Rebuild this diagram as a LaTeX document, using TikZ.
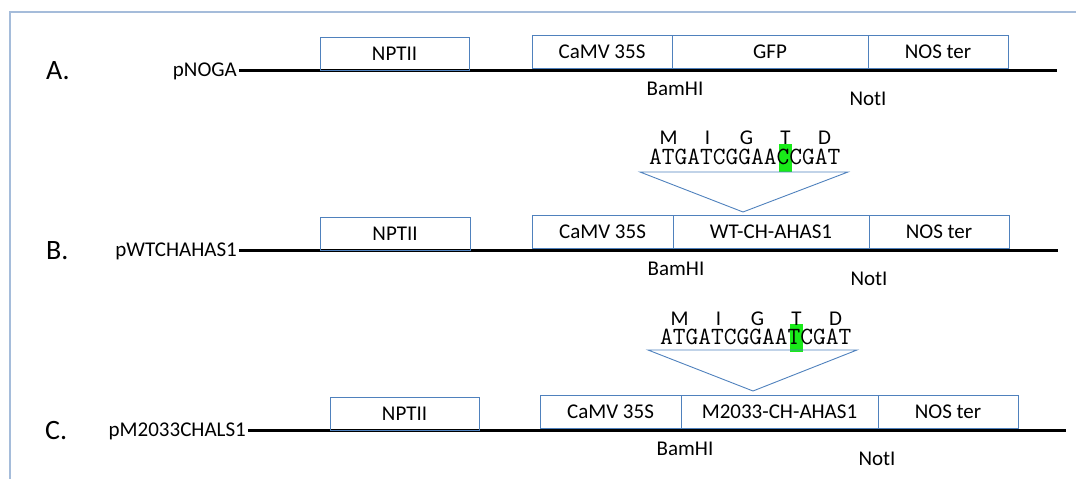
\documentclass[tikz,border=0pt]{standalone}
\usepackage{fontspec}
\setmainfont{Carlito}
\usetikzlibrary{positioning, calc, backgrounds}
\definecolor{boxblue}{RGB}{79,129,189}
\definecolor{frameblue}{RGB}{165,188,218}
\definecolor{mutgreen}{RGB}{25,235,25}

\begin{document}
\begin{tikzpicture}[
        x=1pt, y=1pt,
        gene/.style={rectangle, draw=boxblue, line width=0.9pt, minimum height=33pt, inner sep=0pt, outer sep=0pt, anchor=south west, font=\fontsize{21}{25}\selectfont},
        backbone/.style={line width=3pt},
        framebox/.style={draw=frameblue, line width=1.5pt},
        plasmid/.style={anchor=east, inner sep=2pt, font=\fontsize{21}{25}\selectfont},
        panel/.style={anchor=west, inner sep=0pt, font=\fontsize{28}{32}\selectfont},
        site/.style={inner sep=0pt, font=\fontsize{21}{25}\selectfont},
        seq/.style={anchor=base west, inner sep=0pt, font=\ttfamily\fontsize{24.76}{28}\selectfont},
        aa/.style={inner sep=0pt, font=\fontsize{21}{25}\selectfont},
        insert/.style={draw=boxblue, line width=0.9pt},
        every node/.style={align=center}
    ]

    \useasboundingbox (0,0) rectangle (1076,479);
    \draw[framebox] (10,0) -- (10,467) -- (1076,467);

    % A. pNOGA
    \node[panel] (A) at (46,408) {A.};
    \node[plasmid] (pNOGA) at (239,408) {pNOGA};
    \coordinate (endA) at (1057,408);
    \draw[backbone] (pNOGA) -- (endA);

    \node[gene, minimum width=149pt] (nptA) at (320,409) {NPTII};
    \node[gene, minimum width=140pt] (camA) at (532,411) {CaMV 35S};
    \node[gene, minimum width=196pt, right=0pt of camA] (gfp) {GFP};
    \node[gene, minimum width=140pt, right=0pt of gfp] (nosA) {NOS ter};

    \node[site] (bamA) at (675,390) {BamHI};
    \node[site] (notA) at (868,380) {NotI};

    % B. pWTCHAHAS1
    \node[panel] (B) at (46,228) {B.};
    \node[plasmid] (pWT) at (239,228) {pWTCHAHAS1};
    \coordinate (endB) at (1058,228);
    \draw[backbone] (pWT) -- (endB);

    \node[gene, minimum width=150pt] (nptB) at (320,229) {NPTII};
    \node[gene, minimum width=141pt] (camB) at (532,231) {CaMV 35S};
    \node[gene, minimum width=196pt, right=0pt of camB] (wt) {WT-CH-AHAS1};
    \node[gene, minimum width=140pt, right=0pt of wt] (nosB) {NOS ter};

    \node[site] (bamB) at (676,210) {BamHI};
    \node[site] (notB) at (869,200) {NotI};

    % inserted sequence, wild type
    \node[seq] (seqB) at (649,314) {ATGATCGGAACCGAT};
    \begin{scope}[on background layer]
        \fill[mutgreen] ([xshift=130pt, yshift=-7pt]seqB.base west) rectangle ++(13pt,28pt);
    \end{scope}
    \foreach \aa [count=\i] in {M,I,G,T,D}
        \node[aa] (aaB\i) at ([xshift={(3*\i-1.5)*13pt}, yshift=27pt]seqB.base west) {\aa};
    \coordinate (topLB) at (640,307);
    \coordinate (topRB) at (848,307);
    \coordinate (tipB) at (743,267);
    \draw[insert] (topLB) -- (topRB) -- (tipB) -- cycle;

    % C. pM2033CHALS1
    \node[panel] (C) at (45,48) {C.};
    \node[plasmid] (pM) at (248,48) {pM2033CHALS1};
    \coordinate (endC) at (1066,48);
    \draw[backbone] (pM) -- (endC);

    \node[gene, minimum width=149pt] (nptC) at (330,49) {NPTII};
    \node[gene, minimum width=141pt] (camC) at (540,51) {CaMV 35S};
    \node[gene, minimum width=197pt, right=0pt of camC] (mut) {M2033-CH-AHAS1};
    \node[gene, minimum width=140pt, right=0pt of mut] (nosC) {NOS ter};

    \node[site] (bamC) at (685,30) {BamHI};
    \node[site] (notC) at (877,20) {NotI};

    % inserted sequence, mutant
    \node[seq] (seqC) at (660,134) {ATGATCGGAATCGAT};
    \begin{scope}[on background layer]
        \fill[mutgreen] ([xshift=130pt, yshift=-7pt]seqC.base west) rectangle ++(13pt,28pt);
    \end{scope}
    \foreach \aa [count=\i] in {M,I,G,T,D}
        \node[aa] (aaC\i) at ([xshift={(3*\i-1.5)*13pt}, yshift=26pt]seqC.base west) {\aa};
    \coordinate (topLC) at (648,129);
    \coordinate (topRC) at (857,129);
    \coordinate (tipC) at (753,88);
    \draw[insert] (topLC) -- (topRC) -- (tipC) -- cycle;

\end{tikzpicture}
\end{document}
